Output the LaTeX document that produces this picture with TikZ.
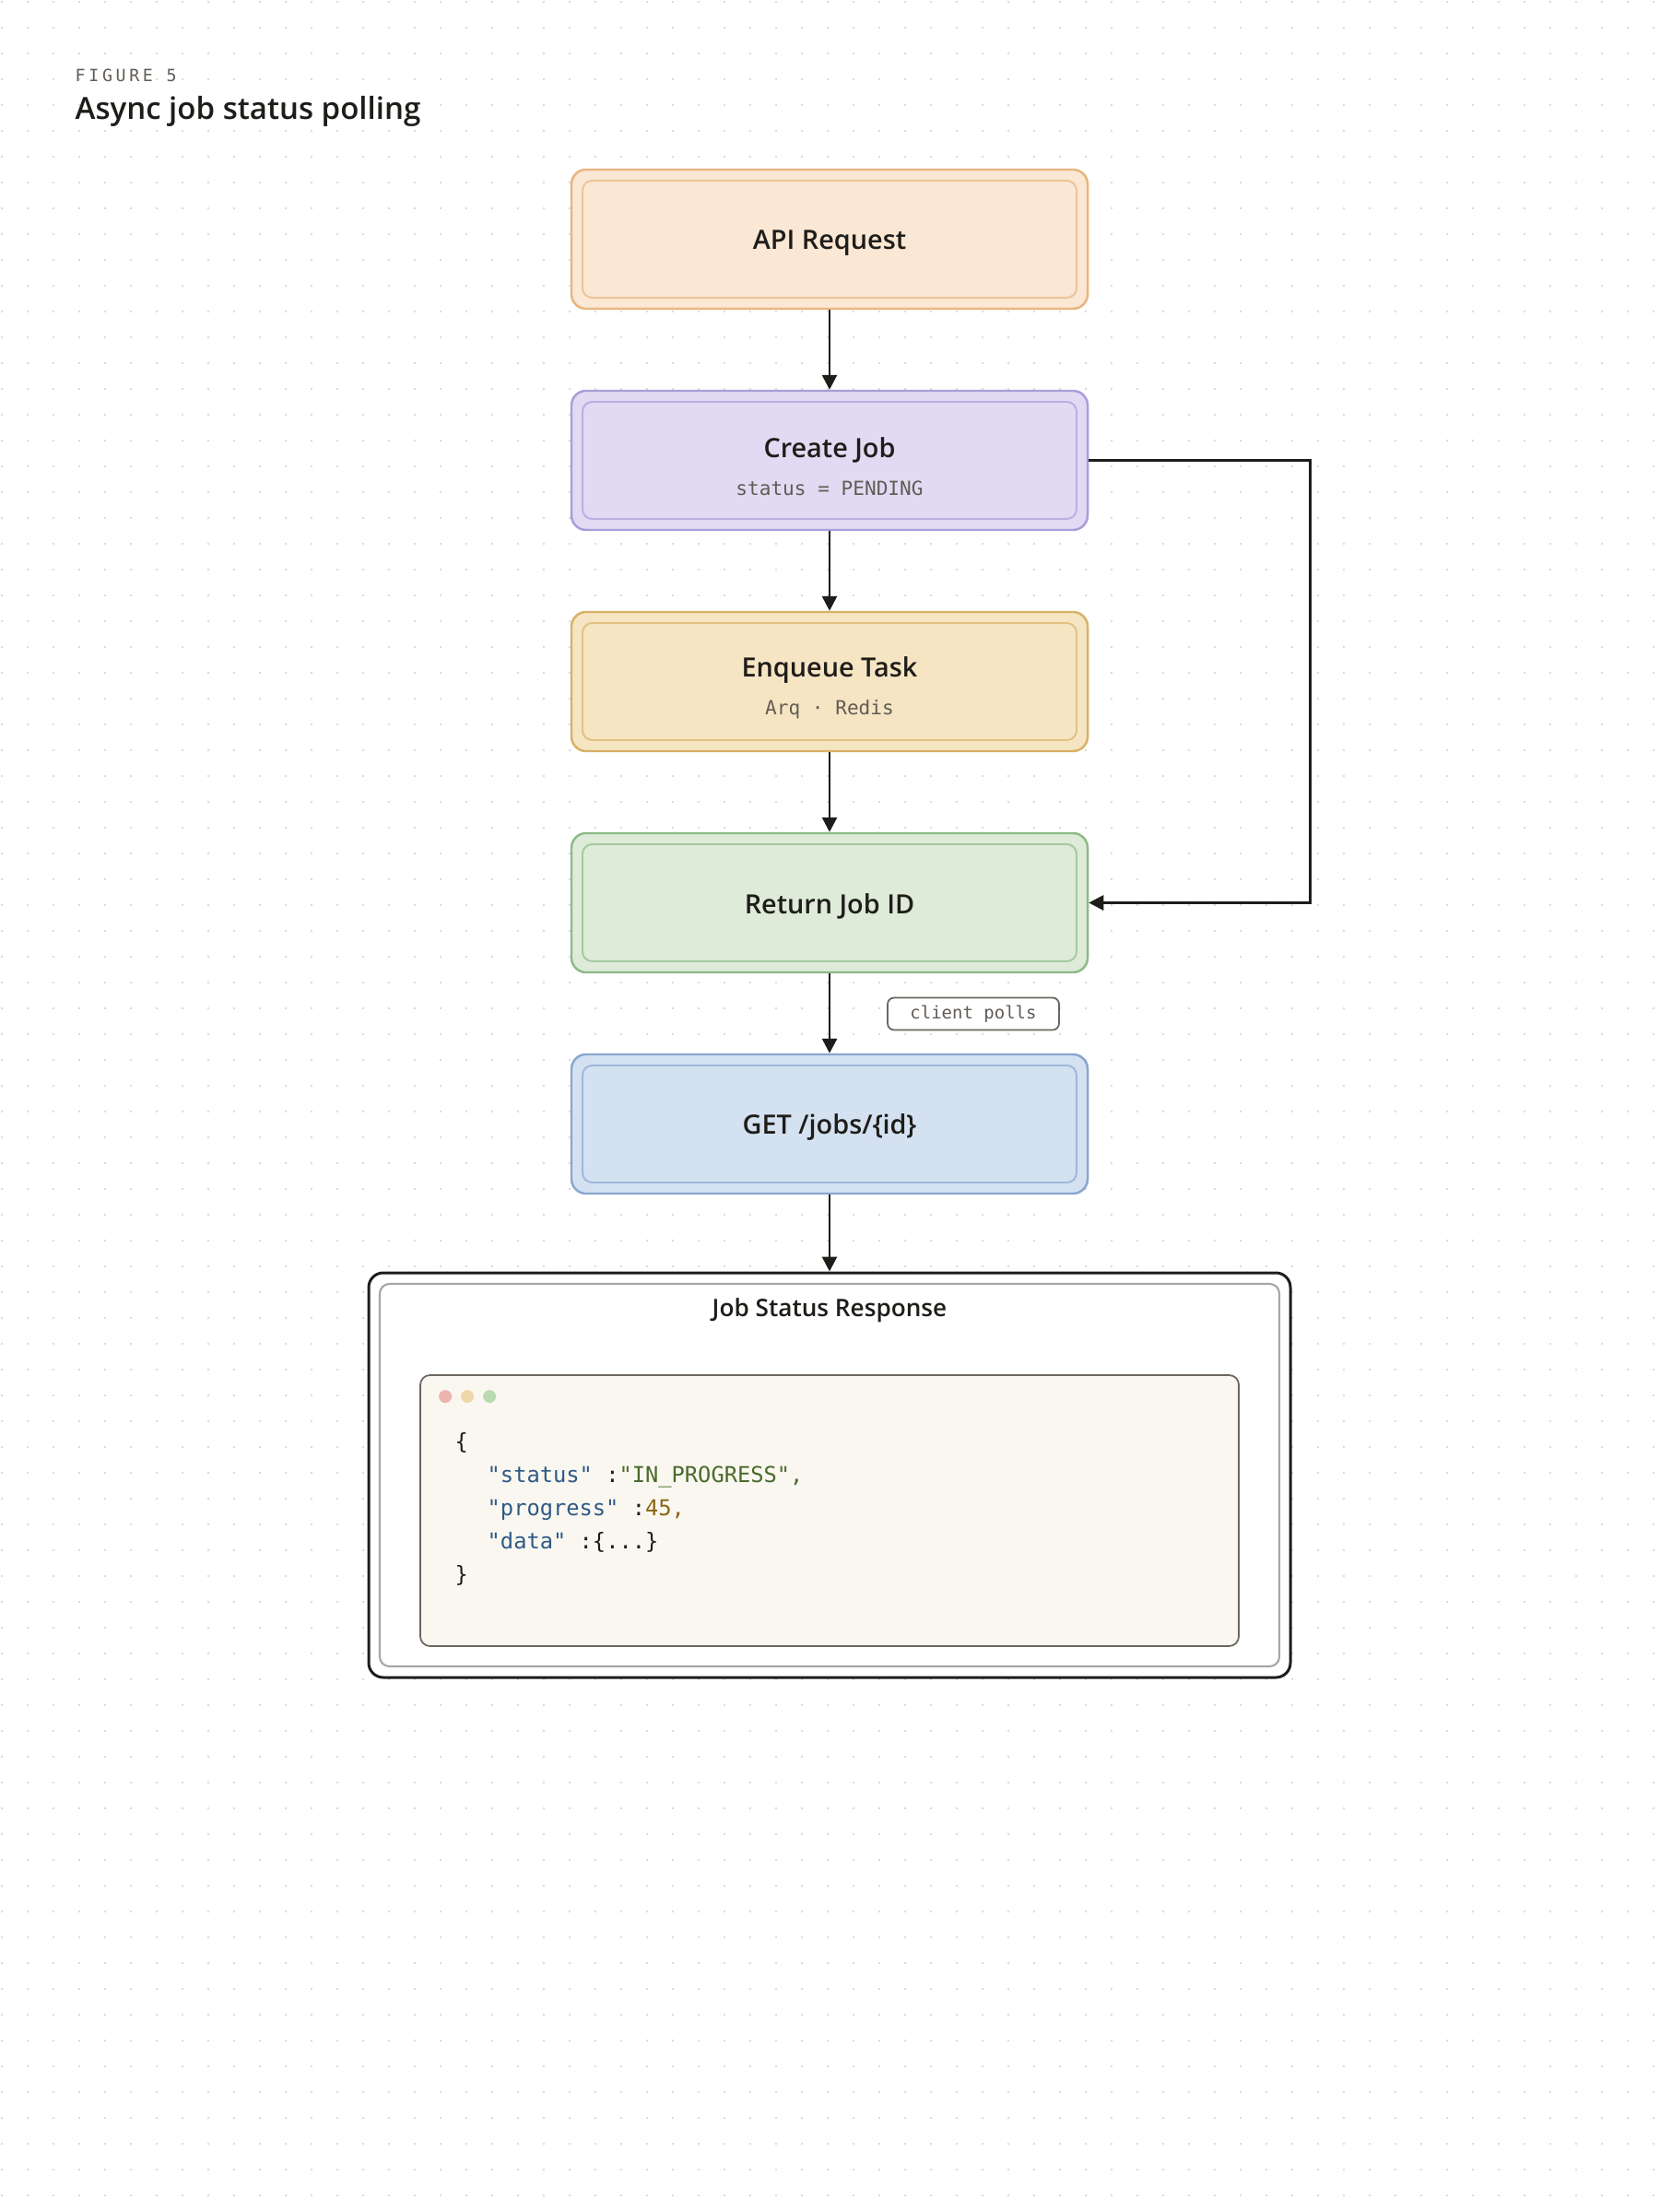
\documentclass[tikz,border=0pt]{standalone}
\usepackage{fontspec}
\setmainfont{Open Sans}
\setmonofont{DejaVu Sans Mono}
\IfFontExistsTF{Open Sans SemiBold}
  {\newfontfamily\headfont{Open Sans SemiBold}}
  {\IfFontExistsTF{Open Sans Semibold}
    {\newfontfamily\headfont{Open Sans Semibold}}
    {\newfontfamily\headfont[FakeBold=2]{Open Sans}}}
\usetikzlibrary{positioning,calc,arrows.meta}
\definecolor{ink}{HTML}{1F1D1A}
\definecolor{muted}{HTML}{625C55}
\definecolor{gridc}{HTML}{D3CEC6}
\definecolor{apifill}{HTML}{FAE7D4}
\definecolor{apiedge}{HTML}{E8B47C}
\definecolor{jobfill}{HTML}{E0DAF3}
\definecolor{jobedge}{HTML}{A99CDB}
\definecolor{qfill}{HTML}{F5E5C3}
\definecolor{qedge}{HTML}{D8B166}
\definecolor{retfill}{HTML}{DDEBD8}
\definecolor{retedge}{HTML}{8CBA87}
\definecolor{getfill}{HTML}{D4E1F1}
\definecolor{getedge}{HTML}{89A7CF}
\definecolor{codefill}{HTML}{FAF7F0}
\definecolor{codeedge}{HTML}{6B6660}
\definecolor{keyc}{HTML}{2E5A86}
\definecolor{strc}{HTML}{4A6B2C}
\definecolor{numc}{HTML}{8A6514}
\definecolor{winr}{HTML}{EDB3AF}
\definecolor{winy}{HTML}{EED8AA}
\definecolor{wing}{HTML}{BCDAAF}
\newcommand{\stagesub}[1]{{\fontsize{6}{7}\selectfont\ttfamily\color{muted}#1}}
\tikzset{
  stage/.style 2 args={draw=#2, fill=#1, line width=0.7pt, rounded corners=4.5pt,
                 minimum width=5.6cm, minimum height=1.51cm, align=center,
                 text=ink, text height=8.4pt, font=\headfont\fontsize{8.2}{10}\selectfont,
                 path picture={\draw[#2!70!#1, line width=0.55pt, rounded corners=3pt]
                   ($(path picture bounding box.north west)+(0.12,-0.12)$) rectangle
                   ($(path picture bounding box.south east)+(-0.12,0.12)$);}},
  % two-line stage: title plus mono sub line
  stagetwo/.style 2 args={stage={#1}{#2}, text height=21.6pt},
  % response frame: black outer, grey inner
  respbox/.style={draw=ink, fill=white, line width=0.85pt, rounded corners=4.5pt,
                 minimum width=10cm, minimum height=4.39cm,
                 path picture={\draw[black!35, line width=0.6pt, rounded corners=3pt]
                   ($(path picture bounding box.north west)+(0.12,-0.12)$) rectangle
                   ($(path picture bounding box.south east)+(-0.12,0.12)$);}},
  codebox/.style={draw=codeedge, fill=codefill, line width=0.5pt, rounded corners=3pt,
                 minimum width=8.88cm, minimum height=2.94cm},
  code/.style   ={anchor=west, inner sep=0pt, text=ink, text height=1.5ex, text depth=0.4ex,
                 font=\ttfamily\fontsize{6.75}{8}\selectfont},
  pill/.style   ={draw=codeedge, fill=white, line width=0.5pt, rounded corners=2pt,
                 minimum width=1.86cm, minimum height=0.35cm, inner sep=0pt,
                 text=muted, font=\ttfamily\fontsize{5.4}{6}\selectfont},
  flow/.style   ={-{Triangle[length=1.6mm,width=1.6mm]}, draw=ink, line width=0.8pt},
}

\begin{document}
\begin{tikzpicture}
    \useasboundingbox (0,0) rectangle (18,-24);
    \fill[white] (0,0) rectangle (18,-24);
    % dot grid, one row at a time
    \foreach \j in {0,...,85}
      \fill[gridc] foreach \i in {0,...,64} { (0.02+0.28*\i,-0.02-0.28*\j) circle (0.012) };
    % heading
    \node[anchor=west, inner sep=0pt, text=muted,
          font=\ttfamily\fontsize{5.2}{6}\selectfont\addfontfeature{LetterSpace=20}]
          (fig) at (0.81,-0.82) {FIGURE 5};
    \node[anchor=west, inner sep=0pt, text=ink, font=\headfont\fontsize{9.4}{12}\selectfont]
          (title) at (0.81,-1.21) {Async job status polling};
    % pipeline
    \node[stage={apifill}{apiedge}]    (api)    at (9,-2.595)  {API Request};
    \node[stagetwo={jobfill}{jobedge}] (create) at (9,-4.995)  {Create Job\\[1.5pt]\stagesub{status = PENDING}};
    \node[stagetwo={qfill}{qedge}]     (queue)  at (9,-7.395)  {Enqueue Task\\[1.5pt]\stagesub{Arq · Redis}};
    \node[stage={retfill}{retedge}]    (ret)    at (9,-9.795)  {Return Job ID};
    \node[stage={getfill}{getedge}]    (get)    at (9,-12.195) {GET /jobs/\{id\}};
    \node[pill] (polls) at (10.56,-11.0) {client polls};
    % response
    \node[respbox] (resp) at (9,-16.005) {};
    \node[inner sep=0pt, text=ink, font=\headfont\fontsize{7.45}{9}\selectfont]
          (resptitle) at ($(resp.north)+(0,-0.42)$) {Job Status Response};
    \node[codebox] (code) at (9,-16.39) {};
    \foreach \c [count=\k] in {winr,winy,wing}
      \fill[\c] ($(code.north west)+(0.04+0.24*\k,-0.24)$) circle (0.07);
    \node[code] (c0) at (4.93,-15.62) {\{};
    \node[code] (c1) at (5.28,-15.98) {\textcolor{keyc}{"status"} :\textcolor{strc}{"IN\_PROGRESS",}};
    \node[code] (c2) at (5.28,-16.34) {\textcolor{keyc}{"progress"} :\textcolor{numc}{45,}};
    \node[code] (c3) at (5.28,-16.70) {\textcolor{keyc}{"data"} :\{...\}};
    \node[code] (c4) at (4.93,-17.06) {\}};
    % flows
    \draw[flow] (api) -- (create);
    \draw[flow] (create) -- (queue);
    \draw[flow] (queue) -- (ret);
    \draw[flow] (ret) -- (get);
    \draw[flow] (get) -- (resp);
    \draw[flow] (create.east) -- ++(2.4,0) |- (ret.east);
  \end{tikzpicture}
\end{document}
